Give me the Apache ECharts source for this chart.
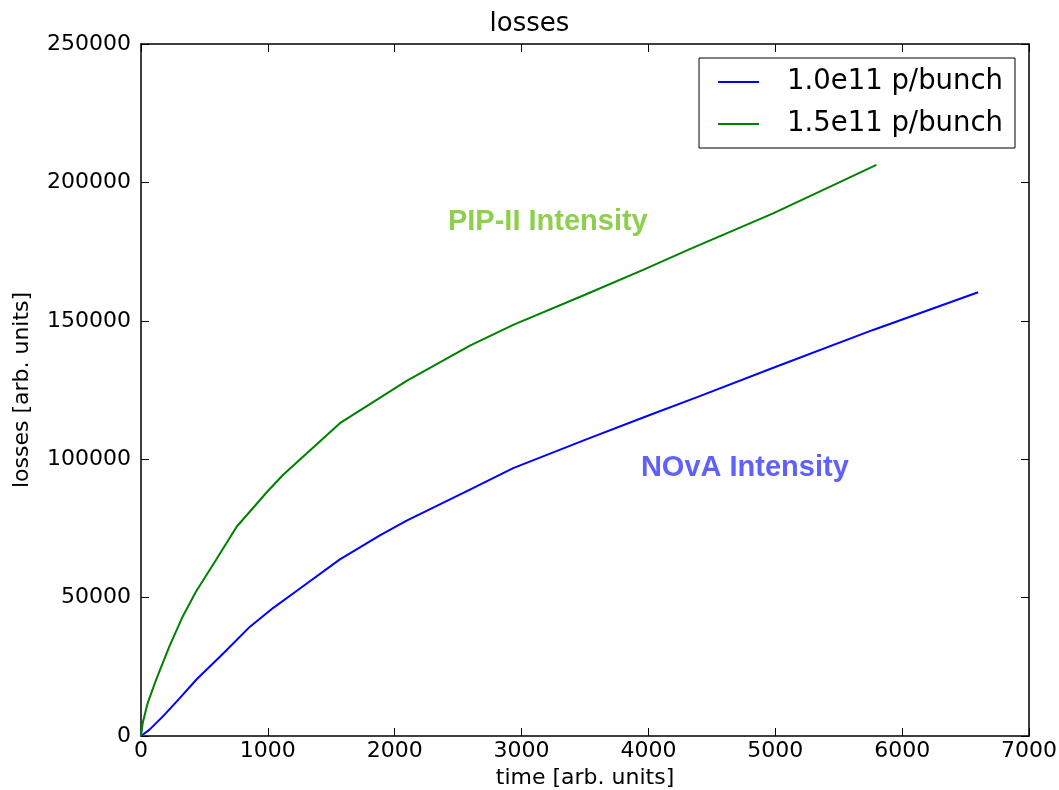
<!DOCTYPE html>
<html>
<head>
<meta charset="utf-8">
<script src="https://cdn.jsdelivr.net/npm/echarts@6/dist/echarts.min.js"></script>
<style>
html,body{margin:0;padding:0;background:#fff;overflow:hidden;}
#chart{width:1059px;height:790px;}
</style>
</head>
<body>
<div id="chart"></div>
<script>
// Data
var seriesNames = ['1.0e11 p/bunch', '1.5e11 p/bunch'];
var blueX = [0, 65, 171, 302, 439, 644, 859, 1043, 1253, 1568, 1883, 2094, 2593, 2934, 3500, 4000, 4405, 5000, 5771, 6599];
var blueY = [0, 2200, 7000, 13500, 20500, 29600, 39500, 46300, 53300, 63800, 72500, 77800, 89000, 96800, 107000, 115800, 122800, 133300, 146700, 160300];
var greenX = [0, 13, 52, 118, 223, 328, 433, 591, 754, 1000, 1121, 1568, 2094, 2593, 2934, 3500, 3958, 4326, 4983, 5500, 5797];
var greenY = [0, 4600, 11800, 20200, 32300, 43100, 52100, 63600, 75600, 88500, 94400, 113000, 128300, 141000, 148500, 159400, 168400, 175900, 188800, 199900, 206300];
var annotationTexts = ['NOvA Intensity', 'PIP-II Intensity'];
var annotationAt = [[4760, 96800], [3207, 185700]];
var xTicks = [0, 1000, 2000, 3000, 4000, 5000, 6000, 7000];
var yTicks = [0, 50000, 100000, 150000, 200000, 250000];

function pairs(xs, ys) { return xs.map(function (x, i) { return [x, ys[i]]; }); }

var font = 'DejaVu Sans';
var axisCommon = {
  axisLine: { show: true, onZero: false, lineStyle: { color: '#000', width: 1.5 } },
  axisTick: { show: true, inside: true, length: 8, lineStyle: { color: '#000', width: 1 } },
  splitLine: { show: false }
};

var chart = echarts.init(document.getElementById('chart'));
chart.setOption({
  animation: false,
  backgroundColor: '#fff',
  title: {
    text: 'losses', left: 'center', top: 6,
    textStyle: { fontFamily: font, fontSize: 26, fontWeight: 'normal', color: '#000' }
  },
  grid: { left: 141, right: 30, top: 44, bottom: 54, outerBoundsMode: 'none', containLabel: false },
  legend: {
    orient: 'vertical', right: 44, top: 58,
    data: seriesNames,
    icon: 'rect',
    backgroundColor: '#fff',
    borderColor: '#000', borderWidth: 1,
    padding: [10, 12, 10, 19],
    itemWidth: 41, itemHeight: 2, itemGap: 14,
    textStyle: { fontFamily: font, fontSize: 27.5, color: '#000', padding: [0, 0, 0, 23] }
  },
  xAxis: [
    Object.assign({
      type: 'value', min: 0, max: 7000, interval: 1000, position: 'bottom',
      name: 'time [arb. units]', nameLocation: 'middle', nameGap: 28,
      nameTextStyle: { fontFamily: font, fontSize: 22, color: '#000' },
      axisLabel: { fontFamily: font, fontSize: 22, color: '#000', margin: 4,
        formatter: function (v) { return xTicks.indexOf(v) >= 0 ? String(v) : ''; } }
    }, axisCommon),
    Object.assign({
      type: 'value', min: 0, max: 7000, interval: 1000, position: 'top',
      axisLabel: { show: false }
    }, axisCommon)
  ],
  yAxis: [
    Object.assign({
      type: 'value', min: 0, max: 250000, interval: 50000, position: 'left',
      name: 'losses [arb. units]', nameLocation: 'middle', nameGap: 108,
      nameTextStyle: { fontFamily: font, fontSize: 22, color: '#000' },
      axisLabel: { fontFamily: font, fontSize: 22, color: '#000', margin: 10,
        formatter: function (v) { return yTicks.indexOf(v) >= 0 ? String(v) : ''; } }
    }, axisCommon),
    Object.assign({
      type: 'value', min: 0, max: 250000, interval: 50000, position: 'right',
      axisLabel: { show: false }
    }, axisCommon)
  ],
  series: [
    {
      name: seriesNames[0], type: 'line', data: pairs(blueX, blueY),
      showSymbol: false, symbol: 'none', smooth: false,
      lineStyle: { color: '#0000ff', width: 2 }, itemStyle: { color: '#0000ff' },
      markPoint: {
        symbol: 'circle', symbolSize: 0,
        data: [{ coord: annotationAt[0], value: annotationTexts[0] }],
        label: { show: true, position: 'inside', formatter: annotationTexts[0],
          fontFamily: 'Liberation Sans', fontWeight: 'bold', fontSize: 29, color: '#6060ff' }
      }
    },
    {
      name: seriesNames[1], type: 'line', data: pairs(greenX, greenY),
      showSymbol: false, symbol: 'none', smooth: false,
      lineStyle: { color: '#008000', width: 2 }, itemStyle: { color: '#008000' },
      markPoint: {
        symbol: 'circle', symbolSize: 0,
        data: [{ coord: annotationAt[1], value: annotationTexts[1] }],
        label: { show: true, position: 'inside', formatter: annotationTexts[1],
          fontFamily: 'Liberation Sans', fontWeight: 'bold', fontSize: 29, color: '#8ecf4f' }
      }
    }
  ]
});
</script>
</body>
</html>
